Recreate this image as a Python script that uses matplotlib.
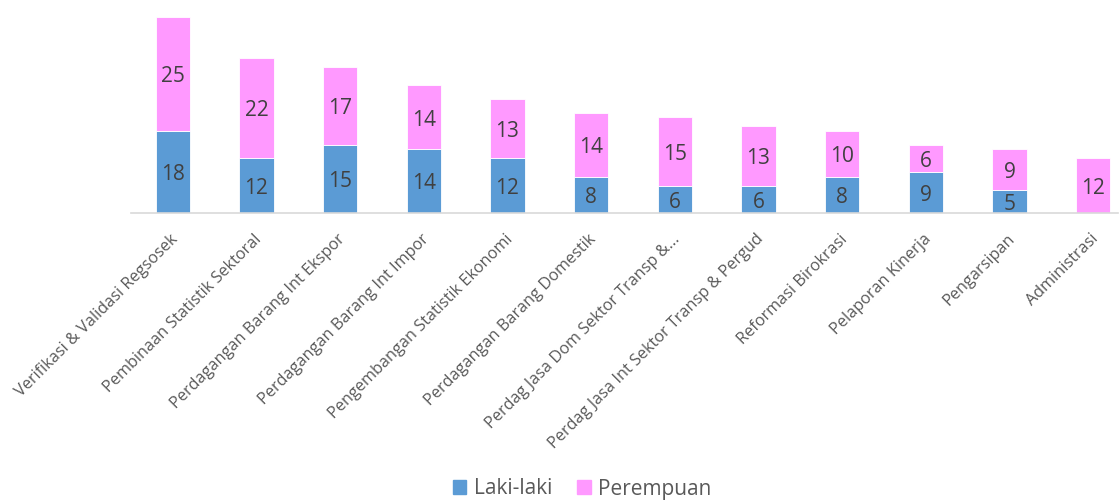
import matplotlib.pyplot as plt
import matplotlib.transforms as mtransforms
from matplotlib.patches import Patch

plt.rcParams['font.family'] = ['Open Sans', 'DejaVu Sans']

categories = ["Verifikasi & Validasi Regsosek", "Pembinaan Statistik Sektoral",
              "Perdagangan Barang Int Ekspor", "Perdagangan Barang Int Impor",
              "Pengembangan Statistik Ekonomi", "Perdagangan Barang Domestik",
              "Perdag Jasa Dom Sektor Transp &...", "Perdag Jasa Int Sektor Transp & Pergud",
              "Reformasi Birokrasi", "Pelaporan Kinerja", "Pengarsipan", "Administrasi"]
laki = [18, 12, 15, 14, 12, 8, 6, 6, 8, 9, 5, 0]
perempuan = [25, 22, 17, 14, 13, 14, 15, 13, 10, 6, 9, 12]

blue = '#5B9BD5'
pink = '#FF99FF'
txt = '#404040'
grey = '#595959'

fig = plt.figure(figsize=(11.19, 5.01), dpi=100)
# axes placed in figure pixels: left 131, baseline at y=213, top at y=17
ax = fig.add_axes([131 / 1119, (501 - 213) / 501, 1004 / 1119, 196 / 501])

x = range(len(categories))
ax.bar(x, laki, width=0.41, color=blue, edgecolor='white', linewidth=0.6)
ax.bar(x, perempuan, width=0.41, bottom=laki, color=pink, edgecolor='white', linewidth=0.6)

for i in x:
    if laki[i] > 0:
        ax.annotate(str(laki[i]), (i, laki[i] / 2), xytext=(0, -2), textcoords='offset points',
                    ha='center', va='center', fontsize=15, color=txt)
    if perempuan[i] > 0:
        ax.annotate(str(perempuan[i]), (i, laki[i] + perempuan[i] / 2), xytext=(0, -2),
                    textcoords='offset points', ha='center', va='center', fontsize=15, color=txt)

ax.set_xlim(-0.5, 11.5)
ax.set_ylim(0, 43)
ax.set_yticks([])
ax.set_xticks(list(x))
ax.set_xticklabels(categories, rotation=45, ha='right', rotation_mode='anchor',
                   fontsize=11.7, color=grey)
ax.tick_params(axis='x', length=0, pad=13)
shift = mtransforms.ScaledTranslation(-3 / 100, 0, fig.dpi_scale_trans)
for lab in ax.get_xticklabels():
    lab.set_transform(lab.get_transform() + shift)
for s in ['top', 'right', 'left']:
    ax.spines[s].set_visible(False)
ax.spines['bottom'].set_color('#d9d9d9')
ax.spines['bottom'].set_linewidth(1.2)
ax.spines['bottom'].set_bounds(-0.5, 11.3)

handles = [Patch(color=blue, label='Laki-laki'), Patch(color=pink, label='Perempuan')]
leg = fig.legend(handles=handles, loc='center', bbox_to_anchor=(582 / 1119, 1 - 489 / 501),
                 ncol=2, frameon=False, fontsize=15, handlelength=0.65, handleheight=0.65,
                 handletextpad=0.35, columnspacing=1.2)
for t in leg.get_texts():
    t.set_color(grey)

fig.savefig('out.png', dpi=100)
